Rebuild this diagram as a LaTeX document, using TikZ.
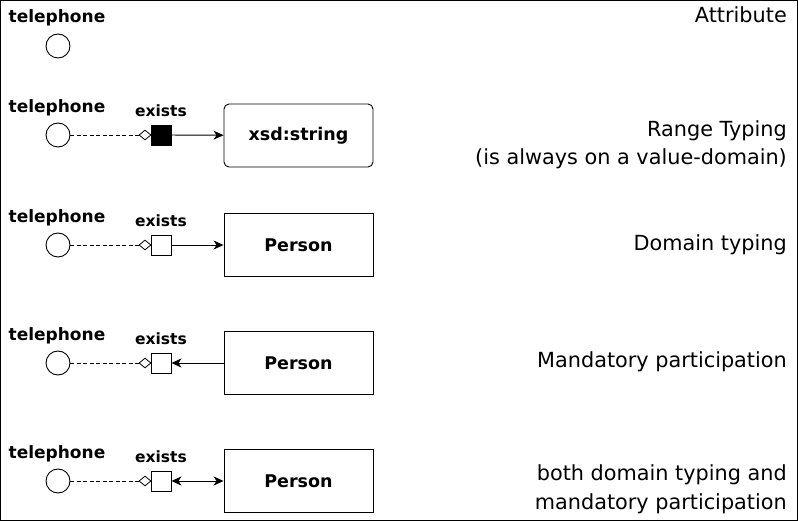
\documentclass[tikz,border=0pt]{standalone}
\usepackage{fontspec}
\setmainfont{DejaVu Sans}
\usetikzlibrary{arrows.meta,shapes.geometric}
\begin{document}
\begin{tikzpicture}[x=1pt,y=-1pt,
  lbl/.style={font=\bfseries\fontsize{17}{19}\selectfont, inner sep=0pt},
  exl/.style={font=\bfseries\fontsize{15.5}{17}\selectfont, inner sep=0pt},
  desc/.style={font=\fontsize{20.8}{28.5}\selectfont, inner sep=0pt, anchor=east, align=right},
  attr/.style={circle, draw, line width=0.9pt, minimum size=24pt, inner sep=0pt},
  dia/.style={diamond, draw, line width=0.8pt, minimum width=12pt, minimum height=10pt, inner sep=0pt},
  sq/.style={draw, line width=0.9pt, minimum size=20pt, inner sep=0pt},
  cbox/.style={draw, line width=0.9pt, minimum width=149pt, minimum height=63pt, inner sep=0pt, font=\bfseries\fontsize{17.5}{19}\selectfont},
  dline/.style={dashed, dash pattern=on 4pt off 2.5pt, line width=0.7pt},
  tip/.tip={Stealth[length=10pt,width=9pt,inset=3pt]},
  arr/.style={line width=0.9pt, -tip},
]
\useasboundingbox (0,0) rectangle (798,521);
\draw[line width=1.2pt] (0.6,0.6) rectangle (797.4,520.4);
\node[desc, anchor=east] (d1) at (787,15) {Attribute};
% row 1
\node[lbl] (t1) at (57,18) {telephone};
\node[attr] (c1) at (58,46) {};
% row 2
\node[lbl] (t2) at (57,107.5) {telephone};
\node[attr] (c2) at (58,135) {};
\node[dia] (m2) at (145,135) {};
\node[sq, fill=black] (s2) at (161,135) {};
\node[exl] (e2) at (161,111) {exists};
\node[cbox, rounded corners=5pt] (b2) at (298.5,135.5) {xsd:string};
\draw[dline] (c2) -- (m2);
\draw[arr] (s2) -- (b2);
\node[desc] (d2) at (787,145) {Range Typing\\(is always on a value-domain)};
% row 3
\node[lbl] (t3) at (57,217.5) {telephone};
\node[attr] (c3) at (58,245) {};
\node[dia] (m3) at (145,245) {};
\node[sq] (s3) at (161,245) {};
\node[exl] (e3) at (161,221) {exists};
\node[cbox] (b3) at (298.5,245) {Person};
\draw[dline] (c3) -- (m3);
\draw[arr] (s3) -- (b3);
\node[desc] (d3) at (787,245) {Domain typing};
% row 4
\node[lbl] (t4) at (57,335.5) {telephone};
\node[attr] (c4) at (58,363) {};
\node[dia] (m4) at (145,363) {};
\node[sq] (s4) at (161,363) {};
\node[exl] (e4) at (161,339) {exists};
\node[cbox] (b4) at (298.5,363) {Person};
\draw[dline] (c4) -- (m4);
\draw[arr] (b4) -- (s4);
\node[desc] (d4) at (787,361.5) {Mandatory participation};
% row 5
\node[lbl] (t5) at (57,453.5) {telephone};
\node[attr] (c5) at (58,481) {};
\node[dia] (m5) at (145,481) {};
\node[sq] (s5) at (161,481) {};
\node[exl] (e5) at (161,457) {exists};
\node[cbox] (b5) at (298.5,481) {Person};
\draw[dline] (c5) -- (m5);
\draw[line width=0.9pt, tip-tip] (s5) -- (b5);
\node[desc] (d5) at (787,489.5) {both domain typing and\\mandatory participation};
\end{tikzpicture}
\end{document}
